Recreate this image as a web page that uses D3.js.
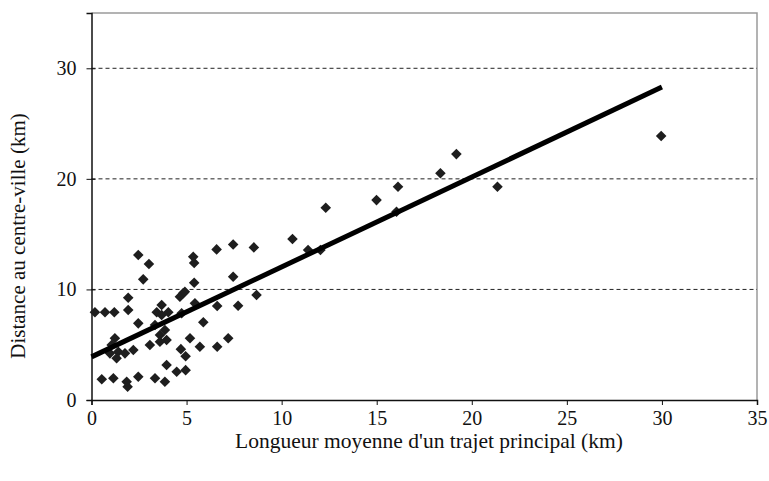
<!DOCTYPE html>
<html>
<head>
<meta charset="utf-8">
<script src="https://cdn.jsdelivr.net/npm/d3@7"></script>
<style>
  body { margin: 0; background: #fff; }
  svg text { font-family: "Liberation Serif", "DejaVu Serif", serif; fill: #111; }
</style>
</head>
<body>
<svg width="769" height="481"></svg>
<script>
// longueur moyenne d'un trajet (km)
const trajet = [
  29.96, 21.35, 19.19, 18.35, 16.12, 16.04, 14.99, 12.32, 12.04, 11.39, 10.57,
  8.54, 7.45, 6.58, 5.35, 5.4, 5.4, 7.45, 8.68, 4.82, 5.44, 6.61, 7.71, 5.88,
  5.18, 5.7, 6.61, 7.19, 4.7, 4.95, 4.95,
  2.46, 3.02, 2.72, 1.93, 0.18, 0.71, 1.2, 1.93, 4.65, 4.91, 3.69, 3.43, 4.04,
  3.69, 2.46, 3.34, 3.86, 3.6, 3.95, 4.74, 1.23, 1.06, 1.41, 0.97, 1.76, 2.2,
  1.32, 3.07, 3.6, 3.95, 4.48, 0.54, 1.15, 1.9, 1.85, 2.46, 3.34, 3.86
];
// distance au centre-ville (km)
const distance = [
  23.87, 19.29, 22.24, 20.5, 19.29, 17.03, 18.08, 17.39, 13.56, 13.56, 14.56,
  13.8, 14.07, 13.62, 12.95, 12.4, 10.6, 11.15, 9.49, 9.65, 8.74, 8.5, 8.53, 7.03,
  5.58, 4.82, 4.82, 5.58, 4.6, 3.95, 2.7,
  13.11, 12.3, 10.91, 9.25, 7.93, 7.93, 7.93, 8.14, 9.34, 9.79, 8.59, 7.93, 7.93,
  7.69, 6.93, 6.78, 6.33, 5.88, 5.42, 7.84, 5.58, 4.97, 4.37, 4.22, 4.22, 4.52,
  3.77, 4.97, 5.27, 3.16, 2.56, 1.87, 1.96, 1.2, 1.65, 2.1, 1.96, 1.65
];
// droite de tendance (extrémités)
const trendX = [0, 30];
const trendY = [3.9, 28.3];

const xTicks = [0, 5, 10, 15, 20, 25, 30, 35];
const yTicks = [0, 10, 20, 30];
const gridValues = [10, 20, 30];

const xAxisLabelText = "Longueur moyenne d'un trajet principal (km)";
const yAxisLabelText = 'Distance au centre-ville (km)';

const svg = d3.select('svg');
const width = +svg.attr('width');
const height = +svg.attr('height');

const margin = { top: 13, right: 12, bottom: 81, left: 91.5 };
const innerWidth = width - margin.left - margin.right;
const innerHeight = height - margin.top - margin.bottom;

const xScale = d3.scaleLinear().domain([0, 35]).range([0, innerWidth]);
const yScale = d3.scaleLinear().domain([0, 35]).range([innerHeight, 0]);

const g = svg.append('g')
  .attr('transform', `translate(${margin.left},${margin.top})`);

// cadre gris (haut et droite)
g.append('path')
  .attr('d', `M0,0H${innerWidth}V${innerHeight}`)
  .attr('fill', 'none')
  .attr('stroke', '#9a9a9a')
  .attr('stroke-width', 1.5);

// lignes pointillées
g.selectAll('.grid').data(gridValues)
  .enter().append('line')
    .attr('class', 'grid')
    .attr('x1', 0)
    .attr('x2', innerWidth)
    .attr('y1', d => yScale(d))
    .attr('y2', d => yScale(d))
    .attr('stroke', '#222')
    .attr('stroke-width', 1)
    .attr('stroke-dasharray', '4,3');

const xAxis = d3.axisBottom(xScale)
  .tickValues(xTicks)
  .tickSize(5)
  .tickPadding(6)
  .tickFormat(d3.format('d'));

const xAxisG = g.append('g').call(xAxis)
  .attr('transform', `translate(0,${innerHeight})`);
xAxisG.select('.domain').attr('stroke', '#111').attr('stroke-width', 1.5);
xAxisG.selectAll('.tick line').attr('stroke', '#111');
xAxisG.selectAll('.tick text')
  .attr('font-size', 20)
  .attr('font-family', '"Liberation Serif", serif');

const yAxis = d3.axisLeft(yScale)
  .tickValues(yTicks)
  .tickSize(5)
  .tickPadding(10)
  .tickFormat(d3.format('d'));

const yAxisG = g.append('g').call(yAxis);
yAxisG.select('.domain').attr('stroke', '#111').attr('stroke-width', 1.5);
yAxisG.selectAll('.tick line').attr('stroke', '#111').attr('x2', 4).attr('x1', -5);
yAxisG.selectAll('.tick text')
  .attr('font-size', 20)
  .attr('font-family', '"Liberation Serif", serif');

// points
const points = trajet.map((x, i) => ({ x, y: distance[i] }));
const diamond = d3.symbol().type(d3.symbolSquare).size(56);
g.selectAll('.pt').data(points)
  .enter().append('path')
    .attr('class', 'pt')
    .attr('d', diamond)
    .attr('transform', d => `translate(${xScale(d.x)},${yScale(d.y)}) rotate(45)`)
    .attr('fill', '#1e1e1e');

// droite de régression
const trend = trendX.map((x, i) => ({ x, y: trendY[i] }));
g.append('path')
  .datum(trend)
  .attr('d', d3.line().x(d => xScale(d.x)).y(d => yScale(d.y)))
  .attr('fill', 'none')
  .attr('stroke', '#000')
  .attr('stroke-width', 5);

// titres des axes
svg.append('text')
  .attr('x', 429)
  .attr('y', 448)
  .attr('text-anchor', 'middle')
  .attr('font-size', 21.5)
  .text(xAxisLabelText);

svg.append('text')
  .attr('transform', `translate(25,${236}) rotate(-90)`)
  .attr('text-anchor', 'middle')
  .attr('font-size', 21)
  .text(yAxisLabelText);
</script>
</body>
</html>
